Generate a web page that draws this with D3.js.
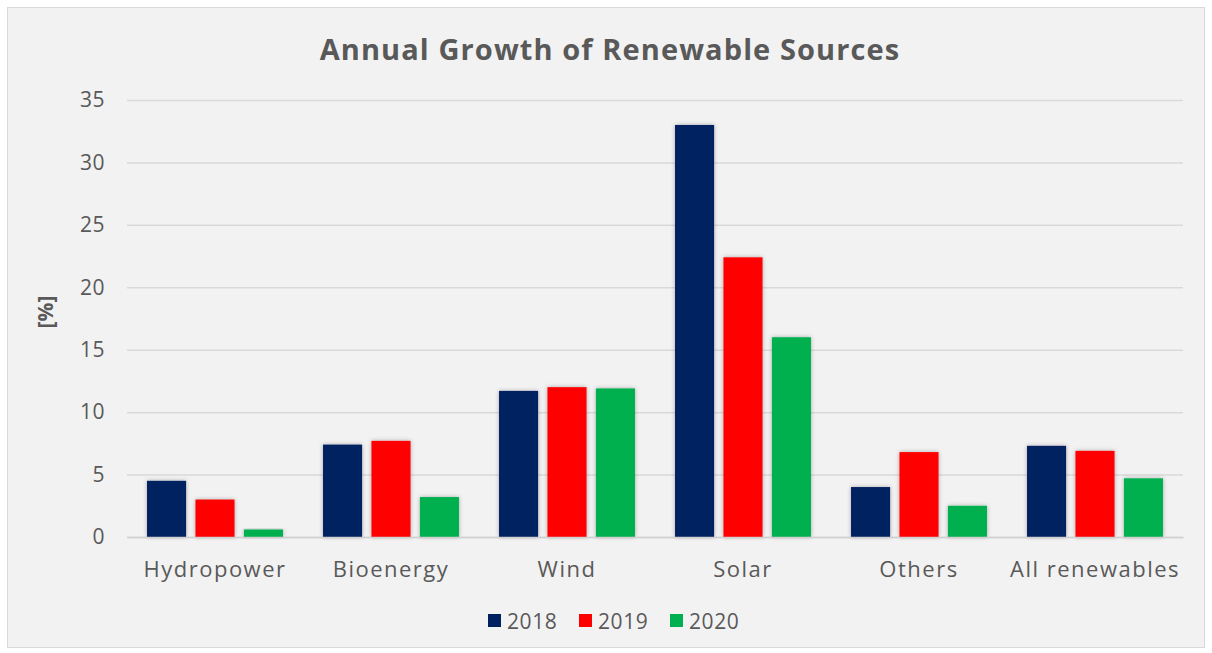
<!DOCTYPE html>
<html><head><meta charset="utf-8">
<script src="https://cdn.jsdelivr.net/npm/d3@7"></script>
<style>html,body{margin:0;padding:0;background:#fff;}svg{display:block;}</style>
</head><body>
<svg id="chart" width="1212" height="653"></svg>
<script>
const categories = ["Hydropower","Bioenergy","Wind","Solar","Others","All renewables"];
const years = ["2018","2019","2020"];
const v2018 = [4.5, 7.4, 11.7, 33.0, 4.0, 7.3];
const v2019 = [3.0, 7.7, 12.0, 22.4, 6.8, 6.9];
const v2020 = [0.6, 3.2, 11.9, 16.0, 2.5, 4.7];
const yTicks = [0,5,10,15,20,25,30,35];
const colors = ["#002060","#ff0000","#00b050"];
const series = [v2018, v2019, v2020];

const font = "'Open Sans', sans-serif";
const textColor = "#595959";
const svg = d3.select("#chart");

svg.append("rect").attr("x",7.5).attr("y",7.5).attr("width",1197).attr("height",640)
  .attr("fill","#f2f2f2").attr("stroke","#d9d9d9").attr("stroke-width",1);

const defs = svg.append("defs");
const f = defs.append("filter").attr("id","sh").attr("x","-20%").attr("y","-20%").attr("width","140%").attr("height","140%");
f.append("feDropShadow").attr("dx",0).attr("dy",0).attr("stdDeviation",2).attr("flood-color","#000").attr("flood-opacity",0.3);

const L = 127, R = 1183, T = 100, B = 537;
const x0 = d3.scaleBand().domain(categories).range([L,R]).paddingInner(0).paddingOuter(0);
const y = d3.scaleLinear().domain([0,35]).range([B,T]);

// grid
const yAxis = d3.axisLeft(y).tickValues(yTicks).tickSize(-(R-L)).tickPadding(22).tickFormat(d3.format("d"));
const gy = svg.append("g").attr("transform",`translate(${L},0)`).call(yAxis);
gy.select(".domain").remove();
gy.selectAll(".tick line").attr("stroke","#d9d9d9").attr("stroke-width",1.5);
gy.selectAll(".tick text").attr("fill",textColor).style("font-family",font).style("font-size","21px").style("letter-spacing","0.5px");

// bars
const band = x0.bandwidth();
const barW = band*0.222;
const step = barW*1.24;
const groupW = barW*3 + (step-barW)*2;
const off = (band-groupW)/2;
const g = svg.append("g");
years.forEach((yr,i)=>{
  g.selectAll(null).data(categories).enter().append("rect")
    .attr("x",(d)=>x0(d)+off+i*step)
    .attr("y",(d,j)=>y(series[i][j]))
    .attr("width",barW)
    .attr("height",(d,j)=>y(0)-y(series[i][j]))
    .attr("fill",colors[i])
    .attr("filter","url(#sh)");
});

// x axis
const xAxis = d3.axisBottom(x0).tickSize(0).tickPadding(24);
const gx = svg.append("g").attr("transform",`translate(0,${B})`).call(xAxis);
gx.select(".domain").attr("stroke","#d0d0d0").attr("stroke-width",1.5);
gx.selectAll(".tick text").attr("fill",textColor).style("font-family",font).style("font-size","22px").style("letter-spacing","1.5px");

// title
svg.append("text").attr("x",610).attr("y",60).attr("text-anchor","middle")
  .attr("fill",textColor).style("font-family",font).style("font-size","29px").style("font-weight","bold")
  .style("letter-spacing","1.1px")
  .text("Annual Growth of Renewable Sources");

// y title
svg.append("text").attr("transform","translate(53,312) rotate(-90)").attr("text-anchor","middle")
  .attr("fill",textColor).style("font-family",font).style("font-size","21px").style("font-weight","bold")
  .text("[%]");

// legend
const lg = svg.append("g");
years.forEach((yr,i)=>{
  const lx = 488 + i*91;
  lg.append("rect").attr("x",lx).attr("y",614).attr("width",13).attr("height",13).attr("fill",colors[i]);
  lg.append("text").attr("x",lx+19).attr("y",629).attr("fill",textColor)
    .style("font-family",font).style("font-size","21px").style("letter-spacing","0.6px").text(yr);
});
</script>
</body></html>
